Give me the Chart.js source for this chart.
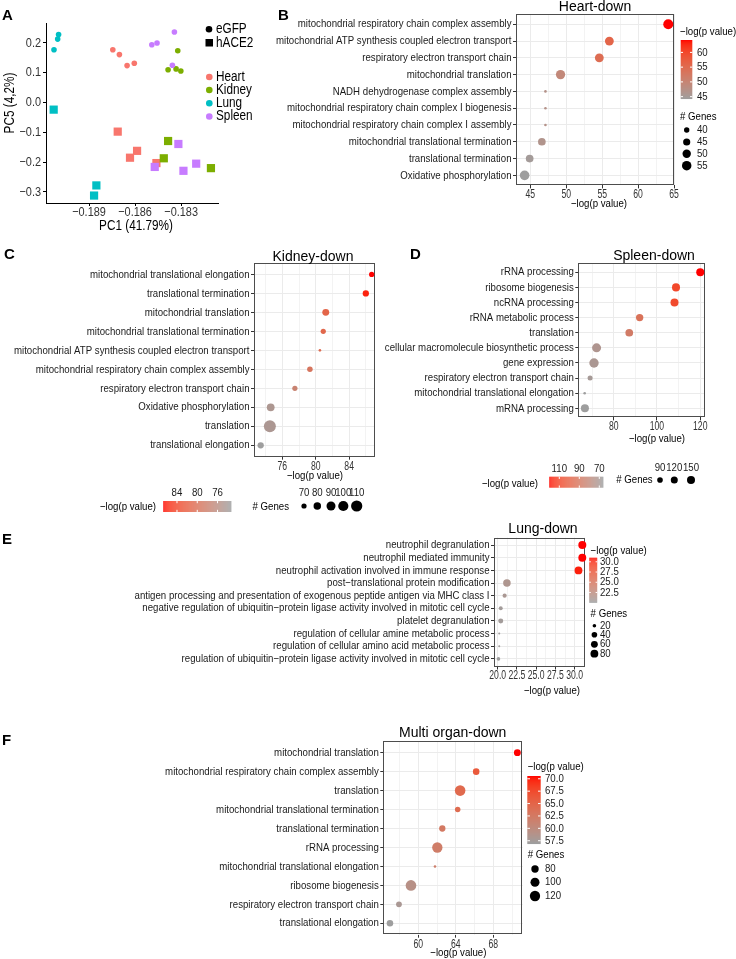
<!DOCTYPE html>
<html lang="en">
<head>
  <meta charset="UTF-8">
  <title>PCA and GO enrichment (down)</title>
  <script src="https://cdn.jsdelivr.net/npm/chart.js"></script>
  <style>
    body { margin: 0; background: #fff; }
    .page { position: relative; width: 736px; height: 959px; }
    .page canvas { position: absolute; left: 0; top: 0; }
  </style>
</head>
<body>
<div class="page">
  <canvas id="pcaChart" width="736" height="959"></canvas>
  <canvas id="heartChart" width="736" height="959"></canvas>
  <canvas id="kidneyChart" width="736" height="959"></canvas>
  <canvas id="spleenChart" width="736" height="959"></canvas>
  <canvas id="lungChart" width="736" height="959"></canvas>
  <canvas id="multiChart" width="736" height="959"></canvas>
</div>

<script>
  // ---------- A: PCA ----------
  const pcaOrgans = ['Heart', 'Kidney', 'Lung', 'Spleen'];
  const pcaColors = ['#F8766D', '#7CAE00', '#00BFC4', '#C77CFF'];
  const pcaXTicks = [-0.189, -0.186, -0.183];
  const pcaXLabels = ['\u22120.189', '\u22120.186', '\u22120.183'];
  const pcaYTicks = [0.2, 0.1, 0.0, -0.1, -0.2, -0.3];
  const pcaYLabels = ['0.2', '0.1', '0.0', '\u22120.1', '\u22120.2', '\u22120.3'];

  // [PC1, PC5]
  const heartEgfp = [[-0.18745, 0.177], [-0.18702, 0.161], [-0.18652, 0.124], [-0.18605, 0.132]];
  const kidneyEgfp = [[-0.18322, 0.174], [-0.18385, 0.110], [-0.18333, 0.113], [-0.18302, 0.106]];
  const lungEgfp = [[-0.19098, 0.228], [-0.19104, 0.213], [-0.19128, 0.177]];
  const spleenEgfp = [[-0.18491, 0.194], [-0.18457, 0.200], [-0.18344, 0.237], [-0.18357, 0.125]];
  const heartAce2 = [[-0.18713, -0.0975], [-0.18587, -0.162], [-0.18633, -0.185], [-0.18461, -0.203]];
  const kidneyAce2 = [[-0.18385, -0.129], [-0.18413, -0.187], [-0.18106, -0.220]];
  const lungAce2 = [[-0.1913, -0.0237], [-0.18852, -0.278], [-0.18867, -0.312]];
  const spleenAce2 = [[-0.18318, -0.139], [-0.18472, -0.216], [-0.18285, -0.229], [-0.18202, -0.205]];

  // ---------- B: Heart-down ----------
  const heartTerms = ['mitochondrial respiratory chain complex assembly', 'mitochondrial ATP synthesis coupled electron transport',
    'respiratory electron transport chain', 'mitochondrial translation', 'NADH dehydrogenase complex assembly',
    'mitochondrial respiratory chain complex I biogenesis', 'mitochondrial respiratory chain complex I assembly',
    'mitochondrial translational termination', 'translational termination', 'Oxidative phosphorylation'];
  const heartLogP = [64.2, 56.0, 54.6, 49.2, 47.1, 47.1, 47.1, 46.6, 44.9, 44.2];
  const heartGenes = [58, 52, 52, 54, 37, 37, 37, 47, 47, 56];
  const heartXTicks = [45, 50, 55, 60, 65];
  const heartXMinor = [47.5, 52.5, 57.5, 62.5];
  const heartColorBreaks = [60, 55, 50, 45];
  const heartSizeBreaks = [40, 45, 50, 55];

  // ---------- C: Kidney-down ----------
  const kidneyTerms = ['mitochondrial translational elongation', 'translational termination', 'mitochondrial translation',
    'mitochondrial translational termination', 'mitochondrial ATP synthesis coupled electron transport',
    'mitochondrial respiratory chain complex assembly', 'respiratory electron transport chain',
    'Oxidative phosphorylation', 'translation', 'translational elongation'];
  const kidneyLogP = [86.7, 86.0, 81.2, 80.9, 80.5, 79.3, 77.5, 74.6, 74.5, 73.4];
  const kidneyGenes = [70, 74, 77, 70, 66, 71, 70, 82, 118, 74];
  const kidneyXTicks = [76, 80, 84];
  const kidneyXMinor = [74, 78, 82, 86];
  const kidneyColorBreaks = [84, 80, 76];
  const kidneySizeBreaks = [70, 80, 90, 100, 110];

  // ---------- D: Spleen-down ----------
  const spleenTerms = ['rRNA processing', 'ribosome biogenesis', 'ncRNA processing', 'rRNA metabolic process', 'translation',
    'cellular macromolecule biosynthetic process', 'gene expression', 'respiratory electron transport chain',
    'mitochondrial translational elongation', 'mRNA processing'];
  const spleenLogP = [120.0, 108.8, 108.1, 92.0, 87.2, 72.1, 70.9, 69.1, 66.6, 66.7];
  const spleenGenes = [150, 150, 150, 130, 140, 185, 200, 80, 62, 150];
  const spleenXTicks = [80, 100, 120];
  const spleenXMinor = [70, 90, 110];
  const spleenColorBreaks = [110, 90, 70];
  const spleenSizeBreaks = [90, 120, 150];

  // ---------- E: Lung-down ----------
  const lungTerms = ['neutrophil degranulation', 'neutrophil mediated immunity', 'neutrophil activation involved in immune response',
    'post\u2212translational protein modification',
    'antigen processing and presentation of exogenous peptide antigen via MHC class I',
    'negative regulation of ubiquitin\u2212protein ligase activity involved in mitotic cell cycle',
    'platelet degranulation', 'regulation of cellular amine metabolic process',
    'regulation of cellular amino acid metabolic process',
    'regulation of ubiquitin\u2212protein ligase activity involved in mitotic cell cycle'];
  const lungLogP = [31.0, 31.0, 30.5, 21.2, 20.9, 20.4, 20.4, 20.2, 20.2, 20.1];
  const lungGenes = [84, 82, 80, 74, 24, 22, 32, 15, 15, 20];
  const lungXTicks = [20, 22.5, 25, 27.5, 30];
  const lungXLabels = ['20.0', '22.5', '25.0', '27.5', '30.0'];
  const lungXMinor = [21.25, 23.75, 26.25, 28.75, 31.25];
  const lungColorBreaks = [30, 27.5, 25, 22.5];
  const lungSizeBreaks = [20, 40, 60, 80];

  // ---------- F: Multi organ-down ----------
  const multiTerms = ['mitochondrial translation', 'mitochondrial respiratory chain complex assembly', 'translation',
    'mitochondrial translational termination', 'translational termination', 'rRNA processing',
    'mitochondrial translational elongation', 'ribosome biogenesis', 'respiratory electron transport chain',
    'translational elongation'];
  const multiLogP = [70.56, 66.17, 64.46, 64.2, 62.56, 62.03, 61.78, 59.22, 57.94, 56.98];
  const multiGenes = [75, 72, 125, 64, 70, 120, 55, 125, 66, 72];
  const multiXTicks = [60, 64, 68];
  const multiXMinor = [58, 62, 66, 70];
  const multiColorBreaks = [70, 67.5, 65, 62.5, 60, 57.5];
  const multiSizeBreaks = [80, 100, 120];

  // ---------- helpers ----------
  const FONT = '"Liberation Sans", Arial, sans-serif';
  const SX = 0.84;   // the figure text is horizontally condensed
  const TICK_SX = 0.72;
  const PAGE_W = 736, PAGE_H = 959;

  function rgbToLab(r, g, b) {
    const lin = c => { c /= 255; return c <= 0.04045 ? c / 12.92 : Math.pow((c + 0.055) / 1.055, 2.4); };
    const R = lin(r), G = lin(g), B = lin(b);
    const X = (R * 0.4124 + G * 0.3576 + B * 0.1805) / 0.95047;
    const Y = R * 0.2126 + G * 0.7152 + B * 0.0722;
    const Z = (R * 0.0193 + G * 0.1192 + B * 0.9505) / 1.08883;
    const f = t => t > 0.008856 ? Math.cbrt(t) : 7.787 * t + 16 / 116;
    return [116 * f(Y) - 16, 500 * (f(X) - f(Y)), 200 * (f(Y) - f(Z))];
  }
  function labToRgb(L, a, b) {
    const fy = (L + 16) / 116, fx = fy + a / 500, fz = fy - b / 200;
    const inv = t => t * t * t > 0.008856 ? t * t * t : (t - 16 / 116) / 7.787;
    const X = inv(fx) * 0.95047, Y = inv(fy), Z = inv(fz) * 1.08883;
    const R = 3.2406 * X - 1.5372 * Y - 0.4986 * Z;
    const G = -0.9689 * X + 1.8758 * Y + 0.0415 * Z;
    const B = 0.0557 * X - 0.2040 * Y + 1.0570 * Z;
    const gam = c => {
      c = c <= 0.0031308 ? 12.92 * c : 1.055 * Math.pow(c, 1 / 2.4) - 0.055;
      return Math.round(Math.min(1, Math.max(0, c)) * 255);
    };
    return [gam(R), gam(G), gam(B)];
  }
  const LOW_LAB = rgbToLab(0x9e, 0x9e, 0x9e);
  const HIGH_LAB = rgbToLab(0xff, 0x00, 0x00);
  function gradient(t) {
    t = Math.min(1, Math.max(0, t));
    const lab = LOW_LAB.map((v, i) => v + (HIGH_LAB[i] - v) * t);
    const c = labToRgb(lab[0], lab[1], lab[2]);
    return `rgb(${c[0]},${c[1]},${c[2]})`;
  }

  // text with optional horizontal squeeze
  function text(ctx, s, x, y, size, align, color, sx, bold) {
    ctx.save();
    ctx.translate(x, y);
    ctx.scale(sx || 1, 1);
    ctx.font = `${bold ? 'bold ' : ''}${size}px ${FONT}`;
    ctx.textAlign = align || 'left';
    ctx.textBaseline = 'middle';
    ctx.fillStyle = color || '#000';
    ctx.fillText(s, 0, 0);
    ctx.restore();
  }

  function dot(ctx, x, y, r, color) {
    ctx.beginPath();
    ctx.arc(x, y, r, 0, Math.PI * 2);
    ctx.fillStyle = color;
    ctx.fill();
  }

  // ---------- A chart ----------
  const pcaSets = [
    [heartEgfp, kidneyEgfp, lungEgfp, spleenEgfp],
    [heartAce2, kidneyAce2, lungAce2, spleenAce2]
  ];
  const pcaDatasets = [];
  pcaSets.forEach((group, g) => {
    group.forEach((pts, k) => {
      pcaDatasets.push({
        label: pcaOrgans[k] + (g ? ' hACE2' : ' eGFP'),
        data: pts.map(p => ({ x: p[0], y: p[1] })),
        backgroundColor: pcaColors[k],
        borderWidth: 0,
        pointStyle: g ? 'rect' : 'circle',
        pointRadius: g ? 5.8 : 2.8,
        order: 4 - k
      });
    });
  });

  const pcaDecor = {
    id: 'pcaDecor',
    afterDraw(chart) {
      const ctx = chart.ctx, xs = chart.scales.x, ys = chart.scales.y;
      text(ctx, 'A', 2, 16, 15, 'left', '#000', 1, true);
      pcaXTicks.forEach((v, k) => text(ctx, pcaXLabels[k], xs.getPixelForValue(v), 212, 13, 'center', '#333', SX));
      pcaYTicks.forEach((v, k) => text(ctx, pcaYLabels[k], 41, ys.getPixelForValue(v), 13, 'right', '#333', SX));
      text(ctx, 'PC1 (41.79%)', 136, 226.5, 14, 'center', '#000', SX);
      ctx.save();
      ctx.translate(10, 103);
      ctx.rotate(-Math.PI / 2);
      text(ctx, 'PC5 (4,2%)', 0, 0, 14, 'center', '#000', SX);
      ctx.restore();
      // shape legend
      dot(ctx, 209, 29.3, 3.3, '#000');
      text(ctx, 'eGFP', 216, 29.5, 14, 'left', '#000', SX);
      ctx.fillStyle = '#000';
      ctx.fillRect(205.5, 39, 7.5, 7.5);
      text(ctx, 'hACE2', 216, 42.7, 14, 'left', '#000', SX);
      // colour legend
      const ly = [77, 90, 103.3, 116.5];
      pcaOrgans.forEach((o, k) => {
        dot(ctx, 209.3, ly[k], 3.3, pcaColors[k]);
        text(ctx, o, 216, ly[k], 14, 'left', '#000', SX);
      });
    }
  };

  new Chart(document.getElementById('pcaChart'), {
    type: 'scatter',
    data: { datasets: pcaDatasets },
    options: {
      responsive: false,
      animation: false,
      devicePixelRatio: 1,
      layout: { padding: { left: 0, top: 23, right: PAGE_W - 218, bottom: 0 } },
      plugins: { legend: { display: false }, tooltip: { enabled: false } },
      scales: {
        x: {
          type: 'linear', min: -0.1918, max: -0.1806,
          afterFit: s => { s.height = PAGE_H - 203; },
          afterBuildTicks: s => { s.ticks = pcaXTicks.map(v => ({ value: v })); },
          grid: { drawOnChartArea: false, tickLength: 3, tickColor: '#000', tickWidth: 1 },
          border: { display: true, color: '#000', width: 1 },
          ticks: { display: false }
        },
        y: {
          type: 'linear', min: -0.337, max: 0.267,
          afterFit: s => { s.width = 46; },
          afterBuildTicks: s => { s.ticks = pcaYTicks.map(v => ({ value: v })); },
          grid: { drawOnChartArea: false, tickLength: 3, tickColor: '#000', tickWidth: 1 },
          border: { display: true, color: '#000', width: 1 },
          ticks: { display: false }
        }
      }
    },
    plugins: [pcaDecor]
  });

  // ---------- dot plot panels ----------
  function makeDotPanel(id, cfg) {
    const vMin = Math.min(...cfg.logP), vMax = Math.max(...cfg.logP);
    const gMin = Math.min(...cfg.genes), gMax = Math.max(...cfg.genes);
    const colorOf = v => gradient((v - vMin) / (vMax - vMin));
    const radiusOf = g => {
      const t = Math.min(1, Math.max(0, (g - gMin) / (gMax - gMin)));
      return cfg.rMin + Math.sqrt(t) * (cfg.rMax - cfg.rMin);
    };
    const majors = cfg.xTicks;
    const xLabels = cfg.xLabels || majors.map(String);
    const allX = majors.concat(cfg.xMinor).sort((a, b) => a - b);
    const p = cfg.plot;
    const LS = 11.5;   // small text size

    const decor = {
      id: 'decor',
      beforeDatasetsDraw(chart) {
        const ctx = chart.ctx, a = chart.chartArea;
        ctx.save();
        ctx.strokeStyle = '#4d4d4d';
        ctx.lineWidth = 1;
        ctx.strokeRect(Math.round(a.left) + 0.5, Math.round(a.top) + 0.5,
          Math.round(a.right - a.left) - 1, Math.round(a.bottom - a.top) - 1);
        ctx.restore();
      },
      afterDraw(chart) {
        const ctx = chart.ctx, xs = chart.scales.x, ys = chart.scales.y;
        text(ctx, cfg.letter[0], cfg.letter[1], cfg.letter[2], 15, 'left', '#000', 1, true);
        text(ctx, cfg.title, cfg.titlePos[0], cfg.titlePos[1], 14, 'center', '#000');
        text(ctx, '\u2212log(p value)', cfg.xTitlePos[0], cfg.xTitlePos[1], LS, 'center', '#000', SX);

        // axis labels from the library scales
        cfg.terms.forEach((t, i) => text(ctx, t, p.l - 4.5, ys.getPixelForValue(i), LS, 'right', '#1a1a1a', SX));
        majors.forEach((v, k) => text(ctx, xLabels[k], xs.getPixelForValue(v), p.b + 9.5, 12, 'center', '#333', TICK_SX));

        // colour bar
        const cb = cfg.colorBar;
        const pos = v => (vMax - v) / (vMax - vMin);
        if (cb.orient === 'v') {
          for (let i = 0; i < cb.h; i++) {
            ctx.fillStyle = gradient(1 - (i + 0.5) / cb.h);
            ctx.fillRect(cb.x, cb.y + i, cb.w, 1.05);
          }
          text(ctx, '\u2212log(p value)', cb.titleX, cb.titleY, LS, 'left', '#000', SX);
          cfg.colorBreaks.forEach(v => {
            const y = cb.y + pos(v) * cb.h;
            ctx.fillStyle = '#fff';
            ctx.fillRect(cb.x, y - 0.5, cb.w * 0.2, 1);
            ctx.fillRect(cb.x + cb.w * 0.8, y - 0.5, cb.w * 0.2, 1);
            text(ctx, cb.fmt ? v.toFixed(1) : String(v), cb.labelX, y, LS, 'left', '#1a1a1a', SX);
          });
        } else {
          for (let i = 0; i < cb.w; i++) {
            ctx.fillStyle = gradient(1 - (i + 0.5) / cb.w);
            ctx.fillRect(cb.x + i, cb.y, 1.05, cb.h);
          }
          text(ctx, '\u2212log(p value)', cb.titleX, cb.titleY, LS, 'right', '#000', SX);
          cfg.colorBreaks.forEach(v => {
            const x = cb.x + pos(v) * cb.w;
            ctx.fillStyle = '#fff';
            ctx.fillRect(x - 0.5, cb.y, 1, cb.h * 0.2);
            ctx.fillRect(x - 0.5, cb.y + cb.h * 0.8, 1, cb.h * 0.2);
            text(ctx, String(v), x, cb.labelY, LS, 'center', '#1a1a1a', SX);
          });
        }

        // size legend
        const sl = cfg.sizeLegend;
        if (sl.orient === 'v') {
          text(ctx, '# Genes', sl.titleX, sl.titleY, LS, 'left', '#000', SX);
          cfg.sizeBreaks.forEach((g, k) => {
            dot(ctx, sl.dotX, sl.ys[k], radiusOf(g), '#000');
            text(ctx, String(g), sl.labelX, sl.ys[k], LS, 'left', '#1a1a1a', SX);
          });
        } else {
          text(ctx, '# Genes', sl.titleX, sl.titleY, LS, 'right', '#000', SX);
          cfg.sizeBreaks.forEach((g, k) => {
            dot(ctx, sl.xs[k], sl.dotY, radiusOf(g), '#000');
            text(ctx, String(g), sl.xs[k], sl.labelY, LS, 'center', '#1a1a1a', SX);
          });
        }
      }
    };

    return new Chart(document.getElementById(id), {
      type: 'bubble',
      data: {
        datasets: [{
          data: cfg.terms.map((t, i) => ({ x: cfg.logP[i], y: i, r: radiusOf(cfg.genes[i]) })),
          backgroundColor: cfg.logP.map(colorOf),
          borderWidth: 0,
          hoverRadius: 0,
          clip: false
        }]
      },
      options: {
        responsive: false,
        animation: false,
        devicePixelRatio: 1,
        layout: { padding: { left: 0, top: p.t, right: PAGE_W - p.r, bottom: 0 } },
        plugins: { legend: { display: false }, tooltip: { enabled: false } },
        scales: {
          x: {
            type: 'linear', min: cfg.xMin, max: cfg.xMax,
            afterFit: s => { s.height = PAGE_H - p.b; },
            afterBuildTicks: s => { s.ticks = allX.map(v => ({ value: v })); },
            grid: {
              color: '#ebebeb',
              lineWidth: c => (c.tick && majors.includes(c.tick.value)) ? 1 : 0.6,
              tickLength: 3,
              tickWidth: 1,
              tickColor: c => (c.tick && majors.includes(c.tick.value)) ? '#333' : 'rgba(0,0,0,0)'
            },
            border: { display: false },
            ticks: { display: false }
          },
          y: {
            type: 'linear', min: -0.6, max: cfg.terms.length - 0.4, reverse: true,
            afterFit: s => { s.width = p.l; },
            afterBuildTicks: s => { s.ticks = cfg.terms.map((t, i) => ({ value: i })); },
            grid: { color: '#ebebeb', lineWidth: 1, tickLength: 3, tickWidth: 1, tickColor: '#333' },
            border: { display: false },
            ticks: { display: false }
          }
        }
      },
      plugins: [decor]
    });
  }

  makeDotPanel('heartChart', {
    terms: heartTerms, logP: heartLogP, genes: heartGenes,
    xTicks: heartXTicks, xMinor: heartXMinor, colorBreaks: heartColorBreaks, sizeBreaks: heartSizeBreaks,
    xMin: 43.0, xMax: 65.0, plot: { l: 516, t: 14.2, r: 674, b: 185.4 },
    rMin: 1.3, rMax: 5.0,
    letter: ['B', 278, 16], title: 'Heart-down', titlePos: [595, 7], xTitlePos: [599, 203.5],
    colorBar: { orient: 'v', x: 680.7, y: 40, w: 11.6, h: 59, titleX: 680, titleY: 31.5, labelX: 697 },
    sizeLegend: { orient: 'v', titleX: 680, titleY: 117, dotX: 686.7, labelX: 697, ys: [130, 142, 153.7, 165.7] }
  });

  makeDotPanel('kidneyChart', {
    terms: kidneyTerms, logP: kidneyLogP, genes: kidneyGenes,
    xTicks: kidneyXTicks, xMinor: kidneyXMinor, colorBreaks: kidneyColorBreaks, sizeBreaks: kidneySizeBreaks,
    xMin: 72.6, xMax: 87.1, plot: { l: 254, t: 263, r: 375, b: 456.7 },
    rMin: 1.3, rMax: 6.0,
    letter: ['C', 4, 255], title: 'Kidney-down', titlePos: [313, 257], xTitlePos: [315, 476],
    colorBar: { orient: 'h', x: 163.3, y: 501, w: 67.4, h: 11, titleX: 156, titleY: 506.5, labelY: 493.3 },
    sizeLegend: { orient: 'h', titleX: 289, titleY: 506.5, dotY: 506, labelY: 493.3, xs: [304, 317.3, 331, 343.3, 356.7] }
  });

  makeDotPanel('spleenChart', {
    terms: spleenTerms, logP: spleenLogP, genes: spleenGenes,
    xTicks: spleenXTicks, xMinor: spleenXMinor, colorBreaks: spleenColorBreaks, sizeBreaks: spleenSizeBreaks,
    xMin: 63.65, xMax: 122.2, plot: { l: 578.3, t: 263.2, r: 705, b: 417.4 },
    rMin: 1.3, rMax: 4.7,
    letter: ['D', 410, 255], title: 'Spleen-down', titlePos: [654, 256], xTitlePos: [657, 438.5],
    colorBar: { orient: 'h', x: 549.3, y: 476.7, w: 53.4, h: 11, titleX: 538, titleY: 484, labelY: 469 },
    sizeLegend: { orient: 'h', titleX: 652.7, titleY: 480, dotY: 480, labelY: 468, xs: [660, 674.3, 691] }
  });

  makeDotPanel('lungChart', {
    terms: lungTerms, logP: lungLogP, genes: lungGenes,
    xTicks: lungXTicks, xLabels: lungXLabels, xMinor: lungXMinor, colorBreaks: lungColorBreaks, sizeBreaks: lungSizeBreaks,
    xMin: 19.52, xMax: 31.35, plot: { l: 494, t: 537.5, r: 585, b: 666.5 },
    rMin: 1.0, rMax: 4.0,
    letter: ['E', 2, 540], title: 'Lung-down', titlePos: [543, 529.5], xTitlePos: [552, 691],
    colorBar: { orient: 'v', x: 589.2, y: 557.7, w: 8, h: 44.6, titleX: 590.6, titleY: 550.7, labelX: 600, fmt: true },
    sizeLegend: { orient: 'v', titleX: 590.6, titleY: 614.3, dotX: 594.4, labelX: 600, ys: [625.7, 634.7, 644.3, 653.7] }
  });

  makeDotPanel('multiChart', {
    terms: multiTerms, logP: multiLogP, genes: multiGenes,
    xTicks: multiXTicks, xMinor: multiXMinor, colorBreaks: multiColorBreaks, sizeBreaks: multiSizeBreaks,
    xMin: 56.27, xMax: 71.13, plot: { l: 383.3, t: 741.3, r: 522.7, b: 934.7 },
    rMin: 1.3, rMax: 5.3,
    letter: ['F', 2, 741], title: 'Multi organ-down', titlePos: [452.7, 733], xTitlePos: [458.3, 953.3],
    colorBar: { orient: 'v', x: 527.3, y: 776, w: 13.4, h: 67.3, titleX: 527.7, titleY: 766.7, labelX: 545, fmt: true },
    sizeLegend: { orient: 'v', titleX: 527.7, titleY: 855, dotX: 535, labelX: 545, ys: [869, 882.3, 896] }
  });
</script>
</body>
</html>
